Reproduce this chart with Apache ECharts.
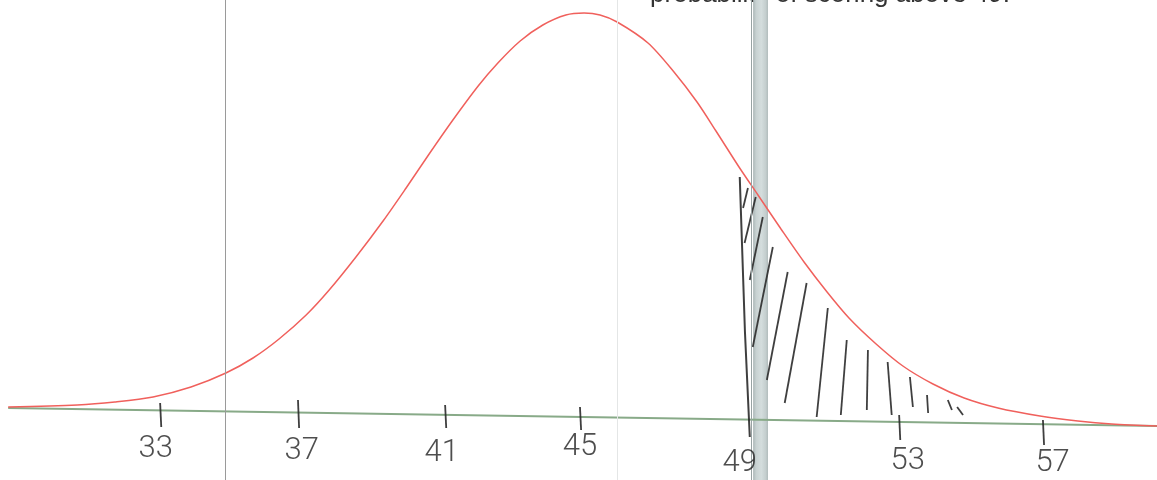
<!DOCTYPE html>
<html><head><meta charset="utf-8">
<script src="https://cdn.jsdelivr.net/npm/echarts@6/dist/echarts.min.js"></script>
<style>html,body{margin:0;padding:0;background:#fff}#c{width:1157px;height:480px}</style>
</head><body><div id="c"></div>
<script>
// Normal curve (x in score units, y in relative height units)
const curveX = [29.17,31.03,32.04,33.07,34.09,35.03,35.76,36.46,37.19,37.81,38.53,39.26,39.88,40.50,41.12,41.82,42.35,42.95,43.56,44.18,44.67,45.10,45.56,46.39,47.09,47.71,48.22,48.84,49.35,49.97,50.59,51.21,51.80,52.53,53.25,54.06,54.90,55.81,56.94,57.96,58.87,60.09];
const curveY = [11,13,16,21,31,45,60,79,103,128,161,197,230,264,297,332,355,377,393,403,405,403,396,375,346,316,287,251,223,189,156,126,100,74,52,34,20,10,2,-3,-6,-8];
// Axis line (slightly tilted in the scan)
const baseX = [29.17, 60.09];
const baseY = [10, -8];
// Vertical guide lines and the grey band
const vLines = [35.01, 45.56, 49.17];
const bandX = [49.22, 49.62];
// Hand-drawn tick marks
const tickLabels = ['33','37','41','45','49','53','57'];
const tickX = [33.26, 36.97, 40.93, 44.56, 53.15, 57.02];
const tickTop = [15, 18, 13, 11, 3, -2];
const tickBottom = [-9, -10, -10, -12, -22, -27];
const labelX = [33.14, 37.07, 40.84, 44.56, 48.86, 53.38, 57.28];
const labelY = [-31, -33, -35, -29, -45, -43, -45];
// Hand-drawn shading strokes: [x1, y1, x2, y2]
const boundary = [[48.86, 241], [49.00, 86], [49.13, -19]];
const hatch = [
  [49.08,230,48.95,210],[49.29,221,48.99,175],[49.48,201,49.13,138],[49.75,171,49.21,71],
  [50.15,146,49.59,38],[50.66,135,50.07,15],[51.23,110,50.93,1],[51.74,78,51.58,3],
  [52.31,68,52.28,8],[52.84,56,52.95,3],[53.44,41,53.52,11],[53.90,23,53.93,5],
  [54.46,18,54.57,8],[54.71,11,54.87,3]
];
const headText = 'probability of scoring above 49.';

const chart = echarts.init(document.getElementById('c'));
const pen = '#2a2a2a';
const strokeData = hatch.map(h => ({coords: [[h[0], h[1]], [h[2], h[3]]]}))
  .concat(tickX.map((x, i) => ({coords: [[x, tickTop[i]], [x + 0.03, tickBottom[i]]]})));
chart.setOption({
  animation: false,
  grid: {left: 0, right: 0, top: 0, bottom: 0},
  xAxis: {type: 'value', min: 28.95, max: 60.09, show: false, splitLine: {show: false}},
  yAxis: {type: 'value', min: -62, max: 418, show: false, splitLine: {show: false}},
  graphic: [{
    type: 'text', silent: true,
    style: {x: 1010, y: -5, text: headText, font: '26px "Liberation Sans"', fill: '#333',
      textAlign: 'right', textVerticalAlign: 'middle'}
  }],
  series: [
    {
      type: 'line', data: [], z: 1, silent: true,
      markArea: {silent: true, data: [[{xAxis: bandX[0]}, {xAxis: bandX[1]}]],
        itemStyle: {color: new echarts.graphic.LinearGradient(0, 0, 1, 0, [
          {offset: 0, color: '#aab6b6'}, {offset: 0.2, color: '#c8d2d2'},
          {offset: 0.55, color: '#d4dddd'}, {offset: 0.85, color: '#c4cece'}, {offset: 1, color: '#b0bbbb'}])}},
      markLine: {silent: true, symbol: 'none', label: {show: false},
        data: [
          {xAxis: vLines[0], lineStyle: {color: '#9a9a9a', width: 1, type: 'solid'}},
          {xAxis: vLines[1], lineStyle: {color: '#e4e6e6', width: 1, type: 'solid'}},
          {xAxis: vLines[2], lineStyle: {color: '#98a3a3', width: 1, type: 'solid'}}
        ]}
    },
    {
      type: 'line', z: 2, silent: true, showSymbol: false,
      data: baseX.map((x, i) => [x, baseY[i]]),
      lineStyle: {color: '#88aa88', width: 2}
    },
    {
      type: 'line', z: 3, silent: true, showSymbol: false, smooth: 0.3,
      data: curveX.map((x, i) => [x, curveY[i]]),
      lineStyle: {color: '#f0605c', width: 1.5}
    },
    {
      type: 'lines', coordinateSystem: 'cartesian2d', z: 4, silent: true,
      data: strokeData,
      lineStyle: {color: pen, width: 1.8, opacity: 0.9}
    },
    {
      type: 'lines', coordinateSystem: 'cartesian2d', polyline: true, z: 4, silent: true,
      data: [{coords: boundary}],
      lineStyle: {color: pen, width: 2, opacity: 0.9}
    },
    {
      type: 'scatter', z: 5, silent: true, symbolSize: 0,
      data: labelX.map((x, i) => ({value: [x, labelY[i]], name: tickLabels[i]})),
      label: {show: true, position: 'inside', formatter: p => p.name,
        fontFamily: 'Roboto', fontWeight: 300, fontSize: 31, color: '#222'}
    }
  ]
});
</script>
</body></html>
